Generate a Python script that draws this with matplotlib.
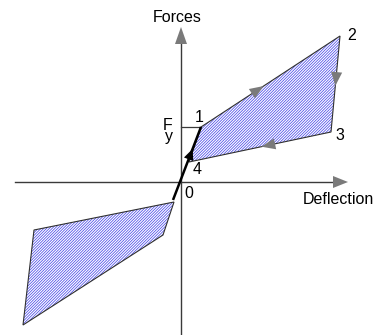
import numpy as np
import matplotlib
matplotlib.use("Agg")
import matplotlib.pyplot as plt
from matplotlib.patches import Polygon

plt.rcParams["font.family"] = ["Liberation Sans", "DejaVu Sans"]
plt.rcParams["hatch.linewidth"] = 0.55

# hysteresis loop corners (deflection, force), arbitrary units
loop_pos_x = [20, 159, 150, 8]       # points 1, 2, 3, 4
loop_pos_y = [55, 146, 50, 20]
loop_neg_x = [-7, -18, -158, -147]
loop_neg_y = [-20, -53, -143, -48]
point_labels = ["1", "2", "3", "4"]
elastic_x = [-8, 20]                  # 0 -> 1 loading branch
elastic_y = [-18, 55]

AX_COL = "#3a3a3a"
HEAD_COL = "#7a7a7a"
HATCH_COL = "#4a4ae8"


def edge_arrow(ax, p0, p1, frac, color, size=1.0, ratio=0.4):
    p0 = np.asarray(p0, float); p1 = np.asarray(p1, float)
    d = p1 - p0
    d = d / np.hypot(*d)
    tip = p0 + (p1 - p0) * frac
    ax.annotate("", xy=tip, xytext=tip - d * 14,
                arrowprops=dict(arrowstyle=f"-|>,head_length={size},head_width={size*ratio}",
                                color=color, lw=0, shrinkA=0, shrinkB=0), zorder=5)


fig = plt.figure(figsize=(3.74, 3.35), dpi=100)
ax = fig.add_axes([0, 0, 1, 1])
ax.set_xlim(-181, 193)
ax.set_ylim(-153, 182)
ax.axis("off")

# axes with arrowheads
ax.plot([-166, 155], [0, 0], color=AX_COL, lw=1.0, zorder=2)
ax.plot([0, 0], [-153, 140], color=AX_COL, lw=1.0, zorder=2)
ax.add_patch(Polygon([[152, 6], [167, 0], [152, -6]], closed=True,
                     color=HEAD_COL, lw=0, zorder=3))
ax.add_patch(Polygon([[-6, 138], [0, 155], [6, 138]], closed=True,
                     color=HEAD_COL, lw=0, zorder=3))

# hatched loops
for xs, ys in ((loop_pos_x, loop_pos_y), (loop_neg_x, loop_neg_y)):
    pts = np.column_stack([xs, ys])
    ax.add_patch(Polygon(pts, closed=True, facecolor="white", edgecolor=HATCH_COL,
                         hatch="/" * 12, lw=0, zorder=1))
    ax.add_patch(Polygon(pts, closed=True, facecolor="none", edgecolor="#303030",
                         lw=0.8, zorder=2))

# Fy marker
ax.plot([0, loop_pos_x[0]], [loop_pos_y[0]] * 2, color=AX_COL, lw=0.9, zorder=2)

# elastic branch through origin
ax.plot(elastic_x, elastic_y, color="black", lw=1.8, zorder=4, solid_capstyle="butt")
edge_arrow(ax, (elastic_x[0], elastic_y[0]), (elastic_x[1], elastic_y[1]), 0.7,
           "black", size=0.8, ratio=0.45)

# direction arrows on the loop
P = list(zip(loop_pos_x, loop_pos_y))
edge_arrow(ax, P[0], P[1], 0.45, HEAD_COL)
edge_arrow(ax, P[1], P[2], 0.52, HEAD_COL)
edge_arrow(ax, P[2], P[3], 0.49, HEAD_COL)

# labels
fs = 11.5
ax.text(-4, 165, "Forces", fontsize=fs, ha="center", va="center")
ax.text(157, -18, "Deflection", fontsize=fs, ha="center", va="center")
ax.text(3, -12, "0", fontsize=fs, ha="left", va="center")
offs = [(-6, 9), (7, 1), (4, -3), (4, -8)]
for lab, x, y, (dx, dy) in zip(point_labels, loop_pos_x, loop_pos_y, offs):
    ax.text(x + dx, y + dy, lab, fontsize=fs, ha="left", va="center")
ax.text(-8.5, 51, "F\ny", fontsize=fs, ha="right", va="center",
        multialignment="right", linespacing=0.6)

fig.savefig("out.png", dpi=100)
